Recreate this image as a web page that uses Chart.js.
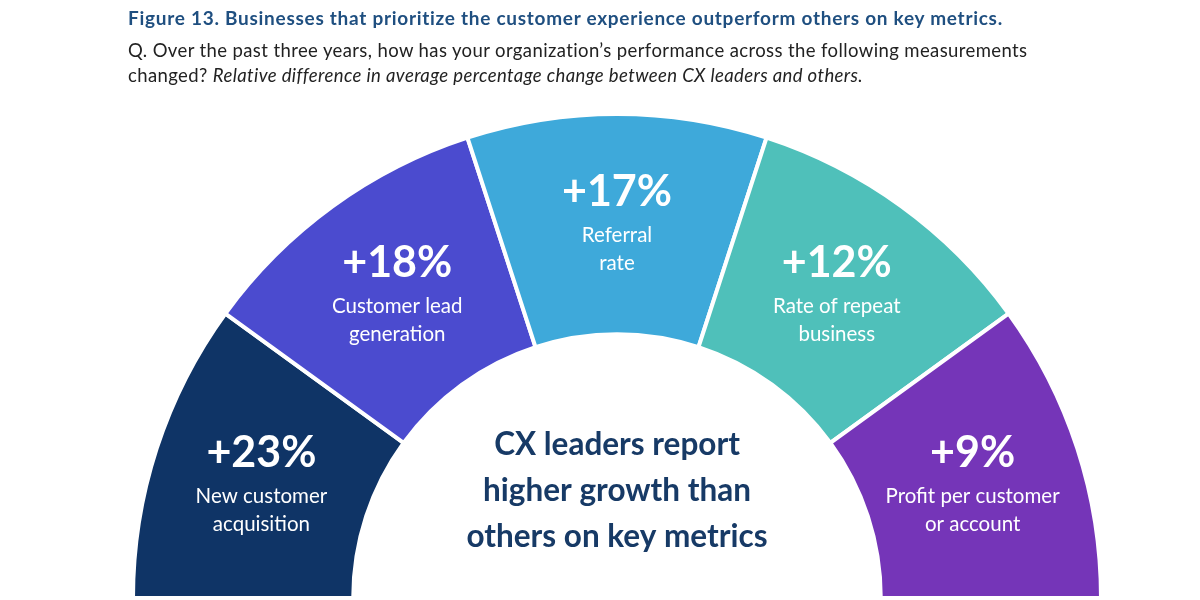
<!DOCTYPE html>
<html>
<head>
<meta charset="utf-8">
<script src="https://cdn.jsdelivr.net/npm/chart.js@4.4.1/dist/chart.umd.min.js"></script>
<style>
  html, body { margin: 0; padding: 0; background: #fff; }
  #wrap { position: relative; width: 1200px; height: 600px; overflow: hidden; }
  #chart { position: absolute; left: 0; top: 0; }
  .head { position: absolute; left: 128px; font-family: Lato, sans-serif; white-space: nowrap; }
  #title { top: 6px; font-size: 19px; letter-spacing: 0.72px; font-weight: bold; color: #1f4f80; }
  #sub { top: 38px; font-size: 18.5px; letter-spacing: 0.39px; line-height: 25px; color: #222; }
</style>
</head>
<body>
<div id="wrap">
  <canvas id="chart" width="1200" height="600"></canvas>
  <div class="head" id="title">Figure 13. Businesses that prioritize the customer experience outperform others on key metrics.</div>
  <div class="head" id="sub">Q. Over the past three years, how has your organization’s performance across the following measurements<br>changed? <i>Relative difference in average percentage change between CX leaders and others.</i></div>
</div>
<script>
// metrics, left to right round the arc
const metrics = [
  ['New customer', 'acquisition'],
  ['Customer lead', 'generation'],
  ['Referral', 'rate'],
  ['Rate of repeat', 'business'],
  ['Profit per customer', 'or account']
];
const diffs = [23, 18, 17, 12, 9];
// every segment has the same size in the figure
const slices = [1, 1, 1, 1, 1];
const colors = ['#0f3466', '#4b4bcf', '#3ea9da', '#4fc0ba', '#7535b8'];
const centerText = ['CX leaders report', 'higher growth than', 'others on key metrics'];

// labels in the segments + text in the hole
const arcLabels = {
  id: 'arcLabels',
  afterDatasetDraw(chart) {
    const { ctx } = chart;
    const meta = chart.getDatasetMeta(0);
    ctx.save();
    ctx.textAlign = 'center';
    ctx.textBaseline = 'middle';
    ctx.fillStyle = '#fff';
    meta.data.forEach((arc, i) => {
      const p = arc.getCenterPoint();
      // the lower two sit a bit lower in the original
      const dy = (i === 0 || i === 4) ? 6 : 3;
      ctx.font = 'bold 43px Lato';
      ctx.fillText('+' + diffs[i] + '%', p.x, p.y - 35 + dy);
      ctx.font = '20.5px Lato';
      ctx.fillText(metrics[i][0], p.x, p.y + 8 + dy);
      ctx.fillText(metrics[i][1], p.x, p.y + 36 + dy);
    });

    const c = meta.data[0];
    ctx.fillStyle = '#173a66';
    ctx.font = 'bold 31.5px Lato';
    centerText.forEach((t, i) => {
      ctx.fillText(t, c.x, c.y - 153 + i * 46);
    });
    ctx.restore();
  }
};

new Chart(document.getElementById('chart'), {
  type: 'doughnut',
  data: {
    labels: metrics.map(m => m.join(' ')),
    datasets: [{
      data: slices,
      backgroundColor: colors,
      borderColor: '#fff',
      borderWidth: 4,
      borderAlign: 'center'
    }]
  },
  options: {
    responsive: false,
    animation: false,
    rotation: -90,
    circumference: 180,
    cutout: '54.5%',
    layout: { padding: { left: 131, right: 97, top: 112, bottom: 0 } },
    plugins: {
      legend: { display: false },
      tooltip: { enabled: false }
    }
  },
  plugins: [arcLabels]
});
</script>
</body>
</html>
